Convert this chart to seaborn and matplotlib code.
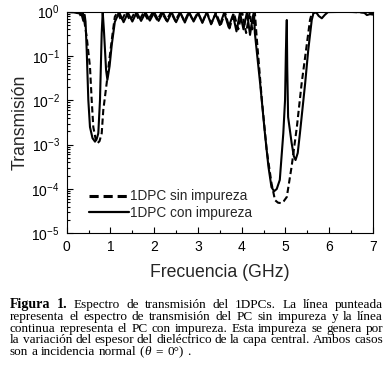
import matplotlib
matplotlib.use("Agg")
import matplotlib.pyplot as plt
from matplotlib.lines import Line2D
from matplotlib.ticker import LogLocator, MultipleLocator, NullFormatter
import numpy as np
import pandas as pd
import seaborn as sns

# ---------------- data ----------------
labels = ["1DPC sin impureza", "1DPC con impureza"]

sin_f = [0.00, 0.20, 0.30, 0.33, 0.37, 0.41, 0.457, 0.532, 0.571, 0.608, 0.66, 0.70, 0.75, 0.80,
         0.836, 0.914, 0.973, 1.05, 1.10, 1.16,
         1.25, 1.35, 1.45, 1.56, 1.66, 1.76, 1.86, 1.97, 2.07, 2.17, 2.28, 2.38, 2.48, 2.59,
         2.69, 2.79, 2.89, 3.00, 3.10, 3.20, 3.31, 3.41, 3.52, 3.62, 3.72, 3.82, 3.92, 4.01,
         4.10, 4.18, 4.24, 4.30,
         4.34, 4.46, 4.57, 4.68, 4.76, 4.83, 4.90, 4.96, 5.03, 5.14, 5.26, 5.37, 5.47, 5.56,
         5.60, 5.70, 6.00, 6.50, 6.80, 6.88, 6.95, 7.00]
sin_T = [0.99, 0.98, 0.90, 0.75, 0.92, 0.55, 0.27, 0.057, 0.0102, 0.0025, 0.00135, 0.00107, 0.0012, 0.0018,
         0.006, 0.0245, 0.081, 0.33, 0.77, 0.97,
         0.62, 0.97, 0.63, 0.98, 0.64, 0.97, 0.65, 0.98, 0.64, 0.97, 0.63, 0.98, 0.62, 0.97,
         0.60, 0.98, 0.62, 0.97, 0.58, 0.97, 0.55, 0.95, 0.50, 0.96, 0.42, 0.93, 0.40, 0.97,
         0.33, 0.95, 0.40, 0.97,
         0.28, 0.0102, 7.6e-4, 1.35e-4, 5.6e-5, 4.9e-5, 4.8e-5, 5.3e-5, 6.6e-5, 3.2e-4, 0.0025, 0.0245, 0.136, 0.65,
         0.91, 0.98, 0.99, 0.99, 0.96, 0.88, 0.93, 0.90]

con_f = [0.00, 0.15, 0.25, 0.31, 0.35, 0.38, 0.41, 0.43, 0.457, 0.494, 0.532, 0.59, 0.647, 0.686, 0.722,
         0.761, 0.80, 0.823, 0.85, 0.90, 0.93, 0.98, 1.03, 1.10,
         1.20, 1.30, 1.40, 1.50, 1.60, 1.70, 1.80, 1.90, 2.00, 2.10, 2.20, 2.30, 2.40, 2.50,
         2.60, 2.70, 2.80, 2.90, 3.00, 3.10, 3.20, 3.30, 3.40, 3.50, 3.60, 3.70, 3.80, 3.88,
         3.96, 4.04, 4.12, 4.19, 4.25, 4.28,
         4.30, 4.42, 4.53, 4.61, 4.68, 4.74, 4.80, 4.87, 4.95, 4.99, 5.01, 5.03, 5.04, 5.06,
         5.14, 5.19, 5.23, 5.28, 5.33, 5.45, 5.52, 5.60, 5.64, 5.70, 5.76, 5.83, 5.90, 5.97,
         6.30, 6.70, 6.80, 6.86, 6.93, 7.00]
con_T = [0.98, 0.97, 0.93, 0.97, 0.80, 0.62, 0.85, 0.60, 0.136, 0.0102, 0.0025, 0.0014, 0.00117, 0.00135, 0.0018,
         0.0102, 0.33, 0.99, 0.39, 0.048, 0.029, 0.059, 0.18, 0.59,
         0.97, 0.58, 0.95, 0.60, 0.97, 0.62, 0.96, 0.63, 0.97, 0.62, 0.96, 0.60, 0.97, 0.58,
         0.95, 0.57, 0.97, 0.60, 0.93, 0.56, 0.97, 0.52, 0.90, 0.50, 0.96, 0.45, 0.85, 0.36,
         0.95, 0.40, 0.97, 0.30, 0.75, 0.99,
         0.33, 0.0245, 0.0018, 3.2e-4, 1.1e-4, 8.9e-5, 1.0e-4, 1.6e-4, 0.0018, 0.0102, 0.136, 0.65, 0.056, 0.0042,
         0.0011, 5.5e-4, 4.5e-4, 6.5e-4, 0.0018, 0.0245, 0.136, 0.65, 0.93, 0.97, 0.80, 0.71, 0.85, 0.98,
         0.99, 0.98, 0.95, 0.84, 0.88, 0.86]

caption_lines = [
    "Figura 1. Espectro de transmisión del 1DPCs. La línea punteada",
    "representa el espectro de transmisión del PC sin impureza y la línea",
    "continua representa el PC con impureza. Esta impureza se genera por",
    "la variación del espesor del dieléctrico de la capa central. Ambos casos",
    "son a incidencia normal (θ = 0°) .",
]

# ---------------- style ----------------
sns.set_theme(style="ticks")
plt.rcParams["font.family"] = ["Liberation Sans", "DejaVu Sans"]
plt.rcParams["mathtext.fontset"] = "custom"
plt.rcParams["mathtext.rm"] = "Liberation Sans"
plt.rcParams["mathtext.it"] = "Liberation Sans:italic"
plt.rcParams["mathtext.bf"] = "Liberation Sans:bold"
plt.rcParams["axes.unicode_minus"] = False

W, H = 389, 377
fig = plt.figure(figsize=(W / 100, H / 100), dpi=100)
ax = fig.add_axes([66.7 / W, 1 - 233.3 / H, (373 - 66.7) / W, (233.3 - 11.7) / H])

df = pd.concat([
    pd.DataFrame({"f": sin_f, "T": sin_T, "serie": labels[0]}),
    pd.DataFrame({"f": con_f, "T": con_T, "serie": labels[1]}),
], ignore_index=True)

sns.lineplot(data=df, x="f", y="T", style="serie", style_order=labels,
             dashes={labels[0]: (3.0, 1.6), labels[1]: ""},
             color="black", linewidth=1.5, estimator=None, sort=False,
             legend=False, ax=ax)

ax.set_yscale("log")
ax.set_xlim(0, 7)
ax.set_ylim(1e-5, 1)
ax.xaxis.set_major_locator(MultipleLocator(1))
ax.xaxis.set_minor_locator(MultipleLocator(0.5))
ax.yaxis.set_major_locator(LogLocator(base=10, numticks=10))
ax.yaxis.set_minor_locator(LogLocator(base=10, subs=np.arange(2, 10), numticks=20))
ax.yaxis.set_minor_formatter(NullFormatter())

ax.tick_params(axis="both", which="both", direction="in", top=False, right=False,
               colors="black", width=0.8)
ax.tick_params(axis="both", which="major", length=4.5, labelsize=10)
ax.tick_params(axis="both", which="minor", length=2.5)
ax.tick_params(axis="x", which="major", pad=5)
ax.tick_params(axis="y", which="major", pad=5)
for s in ax.spines.values():
    s.set_color("black")
    s.set_linewidth(0.8)
    s.set_visible(True)

ax.set_xlabel("Frecuencia (GHz)", fontsize=12.7, labelpad=7)
ax.set_ylabel("Transmisión", fontsize=12.7, labelpad=2)

handles = [Line2D([], [], color="black", lw=2.2, dashes=(3.0, 1.6)),
           Line2D([], [], color="black", lw=1.6)]
leg = ax.legend(handles, labels, loc="center left", bbox_to_anchor=(0.074, 0.13),
                frameon=False, fontsize=9.8, handlelength=2.9, handletextpad=0.1,
                labelspacing=0.15, borderpad=0, borderaxespad=0)

# ---------------- caption (justified) ----------------
r = fig.canvas.get_renderer()
cap_size = 9.5
x0, x1 = 10, 383
baselines = [308.3, 320.0, 331.7, 343.4, 355.1]
space = cap_size * 100 / 72 * 0.25
for i, line in enumerate(caption_lines):
    if i == 4:
        # (text, gap before, italic)
        toks = [("son", 0, False), ("a", space, False), ("incidencia", space, False),
                ("normal", space, False), ("(", space, False), ("θ", 0.5, True),
                ("=", space * 1.3, False), ("0°)", space * 1.3, False), (".", space, False)]
    else:
        toks = [(w, None, False) for w in line.split(" ")]
    ts = []
    for j, (w, _, ital) in enumerate(toks):
        bold = (i == 0 and j < 2)
        t = fig.text(0, 1 - baselines[i] / H, w, fontsize=cap_size + (0.6 if bold else 0),
                     family=["Liberation Serif", "DejaVu Serif"],
                     weight="bold" if bold else "normal",
                     style="italic" if ital else "normal",
                     va="baseline", ha="left", color="black")
        ts.append(t)
    ws = [t.get_window_extent(r).width for t in ts]
    x = x0
    if i < 4:
        gap = (x1 - x0 - sum(ws)) / (len(ts) - 1)
        for t, w in zip(ts, ws):
            t.set_x(x / W)
            x += w + gap
    else:
        for (w_, g, _), t, w in zip(toks, ts, ws):
            x += g
            t.set_x(x / W)
            x += w

fig.savefig("out.png", dpi=100)
